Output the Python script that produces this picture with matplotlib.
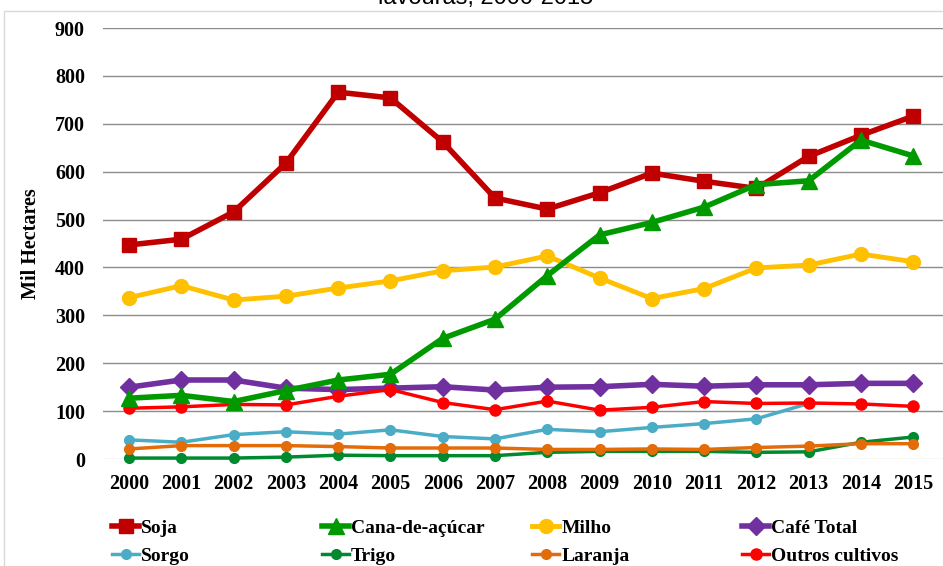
import numpy as np
import matplotlib.pyplot as plt
from matplotlib.patches import Rectangle

years = list(range(2000, 2016))

soja = [447, 459, 516, 618, 766, 754, 662, 545, 522, 556, 597, 580, 565, 632, 676, 716]
cana = [127, 133, 120, 143, 165, 177, 252, 292, 383, 468, 494, 526, 573, 581, 666, 633]
milho = [337, 362, 332, 340, 357, 372, 393, 401, 424, 378, 335, 356, 399, 405, 428, 412]
cafe = [150, 165, 165, 148, 145, 148, 151, 144, 150, 151, 156, 152, 155, 155, 158, 158]
sorgo = [40, 35, 51, 57, 52, 61, 47, 42, 62, 57, 66, 74, 84, 116, np.nan, np.nan]
trigo = [2, 2, 2, 4, 8, 7, 7, 7, 14, 16, 16, 16, 14, 15, 35, 46]
laranja = [21, 28, 28, 28, 26, 23, 23, 23, 20, 20, 21, 20, 24, 27, 32, 32]
outros = [106, 109, 114, 113, 131, 145, 118, 103, 121, 102, 108, 120, 116, 117, 115, 110]

yticks = [0, 100, 200, 300, 400, 500, 600, 700, 800, 900]

serif = 'Liberation Serif'

fig = plt.figure(figsize=(9.43, 5.66), dpi=100)
ax = fig.add_axes([0.1092, 0.189, 0.8908, 0.7615])

# name, values, colour, marker, markersize, linewidth, zorder
series = [
    ('Soja', soja, '#C00000', 's', 10, 4, 5),
    ('Cana-de-açúcar', cana, '#009A00', '^', 12, 4, 6),
    ('Milho', milho, '#FFC000', 'o', 10, 3.5, 4),
    ('Café Total', cafe, '#7030A0', 'D', 9, 4, 3),
    ('Sorgo', sorgo, '#4BACC6', 'o', 7, 2.5, 2),
    ('Trigo', trigo, '#00892F', 'o', 7, 2.5, 3),
    ('Laranja', laranja, '#E36C09', 'o', 7, 2.5, 4),
    ('Outros cultivos', outros, '#FF0000', 'o', 8, 2.5, 5),
]

handles = {}
for name, vals, col, mk, ms, lw, z in series:
    h, = ax.plot(years, vals, color=col, marker=mk, markersize=ms, lw=lw,
                 label=name, zorder=z, clip_on=False)
    handles[name] = h

ax.set_xlim(1999.5, 2015.57)
ax.set_ylim(0, 900)
ax.set_yticks(yticks)
ax.set_xticks(years)
for v in yticks[1:]:
    ax.axhline(v, color='#8C8C8C', lw=1, zorder=0)
ax.axhline(0, color='#D9D9D9', lw=1, zorder=0)
for s in ax.spines.values():
    s.set_visible(False)
ax.tick_params(length=0, labelsize=14.5)
ax.tick_params(axis='x', pad=11)
ax.tick_params(axis='y', pad=13)
for lab in ax.get_xticklabels() + ax.get_yticklabels():
    lab.set_fontfamily(serif)
    lab.set_fontweight('bold')
ax.set_ylabel('Mil Hectares', fontfamily=serif, fontweight='bold',
              fontsize=14.5, labelpad=10)

# legend: four columns, 210 px apart
columns = [('Soja', 'Sorgo'), ('Cana-de-açúcar', 'Trigo'),
           ('Milho', 'Laranja'), ('Café Total', 'Outros cultivos')]
for i, names in enumerate(columns):
    fig.legend([handles[n] for n in names], names, loc='upper left',
               bbox_to_anchor=((112 + 210 * i) / 943, 0.082),
               frameon=False, handlelength=1.4, handletextpad=0.1,
               labelspacing=0.5, borderpad=0, borderaxespad=0,
               prop={'family': serif, 'weight': 'bold', 'size': 14})

fig.patches.append(Rectangle((4 / 943, -0.01), 1.0, 1 - 11 / 566 + 0.01,
                             transform=fig.transFigure, fill=False,
                             edgecolor='#D9D9D9', lw=1))
fig.text(0.515, 1 - 9 / 566, 'lavouras, 2000-2015', ha='center', va='bottom',
         fontfamily='Liberation Sans', fontsize=17)

fig.savefig('out.png', dpi=100)
